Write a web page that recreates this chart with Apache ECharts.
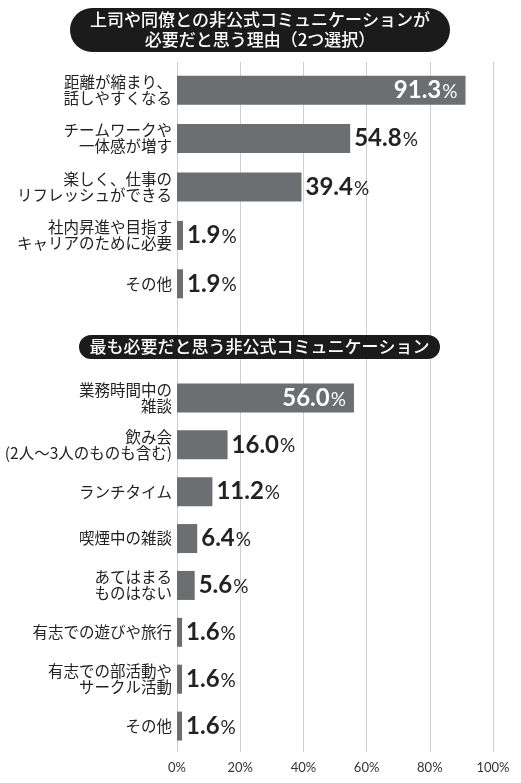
<!DOCTYPE html>
<html>
<head>
<meta charset="utf-8">
<script src="https://cdn.jsdelivr.net/npm/echarts@6/dist/echarts.min.js"></script>
<style>
  html, body { margin: 0; padding: 0; background: #fff; }
  #chart { width: 521px; height: 783px; }
</style>
</head>
<body>
<div id="chart"></div>
<script>
// 上段：非公式コミュニケーションが必要だと思う理由（2つ選択）
const reasons = [
  '距離が縮まり、\n話しやすくなる',
  'チームワークや\n一体感が増す',
  '楽しく、仕事の\nリフレッシュができる',
  '社内昇進や目指す\nキャリアのために必要',
  'その他'
]
const reasonValues = [91.3, 54.8, 39.4, 1.9, 1.9]

// 下段：最も必要だと思う非公式コミュニケーション
const types = [
  '業務時間中の\n雑談',
  '飲み会\n(2人～3人のものも含む)',
  'ランチタイム',
  '喫煙中の雑談',
  'あてはまる\nものはない',
  '有志での遊びや旅行',
  '有志での部活動や\nサークル活動',
  'その他'
]
const typeValues = [56.0, 16.0, 11.2, 6.4, 5.6, 1.6, 1.6, 1.6]

const ticks = [0, 20, 40, 60, 80, 100]

const JP = '"Noto Sans CJK JP", sans-serif'
const NUM = 'Lato, "Noto Sans", sans-serif'
const BAR = '#6d6e72'

const chart = echarts.init(document.getElementById('chart'))

// first bar of each block carries its label inside, in white
function toData(values) {
  return values.map((v, i) => i === 0
    ? { value: v, label: { position: 'insideRight', distance: 8, color: '#fff' } }
    : v)
}

function catAxis(gridIndex, data) {
  return {
    type: 'category', gridIndex, data, inverse: true,
    axisLine: { show: false }, axisTick: { show: false },
    axisLabel: { color: '#222', fontFamily: JP, fontSize: 15.5, lineHeight: 16, margin: 5 }
  }
}

function hiddenX(gridIndex) {
  return { type: 'value', gridIndex, min: 0, max: 100, show: false }
}

const barLabel = {
  show: true,
  position: 'right',
  distance: 4,
  color: '#222',
  formatter: p => '{v|' + p.value.toFixed(1) + '}{p|%}',
  rich: {
    v: { fontFamily: NUM, fontWeight: 'bold', fontSize: 24 },
    p: { fontFamily: NUM, fontSize: 19, padding: [3, 0, 0, 1] }
  }
}

chart.setOption({
  animation: false,
  grid: [
    { left: 177, right: 28, top: 62, bottom: 31 },
    { left: 177, right: 28, top: 66, height: 242 },
    { left: 177, right: 28, top: 374.5, height: 375 }
  ],
  xAxis: [
    {
      type: 'value', gridIndex: 0, min: ticks[0], max: ticks[ticks.length - 1], interval: 20,
      axisLine: { show: false }, axisTick: { show: false },
      splitLine: { lineStyle: { color: '#cfcfcf', width: 1 } },
      axisLabel: { color: '#333', fontFamily: NUM, fontSize: 13, margin: 9, formatter: '{value}%' }
    },
    hiddenX(1),
    hiddenX(2)
  ],
  yAxis: [
    { type: 'value', gridIndex: 0, min: 0, max: 1, show: false },
    catAxis(1, reasons),
    catAxis(2, types)
  ],
  graphic: [
    {
      type: 'rect', z: 100,
      shape: { x: 70, y: 8, width: 380, height: 44, r: 22 },
      style: { fill: '#1b1b1b' }
    },
    {
      type: 'text', z: 101, x: 260, y: 30,
      style: {
        text: '上司や同僚との非公式コミュニケーションが\n必要だと思う理由（2つ選択）',
        fill: '#fff', font: '500 17px ' + JP, lineHeight: 20,
        align: 'center', verticalAlign: 'middle'
      }
    },
    {
      type: 'rect', z: 100,
      shape: { x: 79, y: 335, width: 361, height: 24, r: 12 },
      style: { fill: '#1b1b1b' }
    },
    {
      type: 'text', z: 101, x: 259.5, y: 347,
      style: {
        text: '最も必要だと思う非公式コミュニケーション',
        fill: '#fff', font: '500 17px ' + JP,
        align: 'center', verticalAlign: 'middle'
      }
    }
  ],
  series: [
    {
      type: 'bar', xAxisIndex: 1, yAxisIndex: 1,
      data: toData(reasonValues), barWidth: 29,
      itemStyle: { color: BAR }, label: barLabel
    },
    {
      type: 'bar', xAxisIndex: 2, yAxisIndex: 2,
      data: toData(typeValues), barWidth: 29,
      itemStyle: { color: BAR }, label: barLabel
    }
  ]
})
</script>
</body>
</html>
